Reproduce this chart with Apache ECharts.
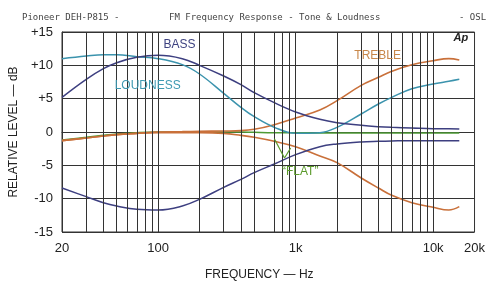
<!DOCTYPE html>
<html>
<head>
<meta charset="utf-8">
<script src="https://cdn.jsdelivr.net/npm/echarts@6/dist/echarts.min.js"></script>
<style>
  html, body { margin: 0; padding: 0; background: #fff; }
  #chart { width: 488px; height: 286px; }
</style>
</head>
<body>
<div id="chart"></div>
<script>
var freqs = [20, 30, 40, 50, 70, 100, 150, 200, 300, 400, 500, 700, 1000, 1500, 2000, 3000, 4000, 5000, 7000, 10000, 13000, 15500];

// relative level, dB
var bassBoost   = [5.2, 7.9, 9.5, 10.4, 11.2, 11.5, 11.0, 10.0, 8.4, 7.1, 5.9, 4.4, 3.0, 1.9, 1.4, 1.0, 0.8, 0.7, 0.6, 0.5, 0.5, 0.45];
var bassCut     = [-8.4, -9.7, -10.6, -11.1, -11.6, -11.7, -11.1, -10.1, -8.3, -7.1, -6.1, -4.8, -3.4, -2.2, -1.8, -1.5, -1.4, -1.35, -1.3, -1.3, -1.3, -1.3];
var loudness    = [11.0, 11.4, 11.6, 11.6, 11.3, 11.0, 10.1, 8.7, 5.8, 3.7, 2.3, 0.7, -0.2, -0.1, 0.7, 2.7, 4.2, 5.2, 6.5, 7.2, 7.6, 7.9];
var trebleBoost = [-1.3, -0.9, -0.6, -0.4, -0.2, 0.0, 0.05, 0.1, 0.15, 0.2, 0.4, 1.1, 2.1, 3.3, 4.7, 7.0, 8.2, 9.1, 10.1, 10.7, 11.0, 10.8];
var trebleCut   = [-1.3, -0.9, -0.6, -0.4, -0.2, -0.1, -0.1, -0.1, -0.2, -0.5, -0.8, -1.4, -2.2, -3.6, -4.6, -6.9, -8.4, -9.5, -10.6, -11.3, -11.7, -11.2];
var flat        = [-1.2, -0.8, -0.5, -0.3, -0.1, 0.0, 0.0, 0.0, 0.0, 0.0, -0.05, -0.1, -0.1, -0.15, -0.15, -0.15, -0.15, -0.15, -0.15, -0.15, -0.15, -0.15];

// vertical grid lines
var gridFreqs = [30, 40, 50, 60, 70, 80, 90, 100, 200, 300, 400, 500, 700, 800, 900, 1000,
                 2000, 3000, 4000, 5000, 6000, 7000, 8000, 9000, 10000];

function pairs(vals) {
    return freqs.map(function (f, i) { return [f, vals[i]]; });
}

var myChart = echarts.init(document.getElementById('chart'), null, {renderer: 'canvas'});

var lineBase = {type: 'line', smooth: 0.4, showSymbol: false, symbol: 'none', z: 3, silent: true};

function curve(name, vals, color, width) {
    return Object.assign({}, lineBase, {
        name: name,
        data: pairs(vals),
        lineStyle: {color: color, width: width || 1.5}
    });
}

// text tags placed in data coordinates
function tag(text, f, db, color, extra) {
    return {
        symbol: 'circle', symbolSize: 1, silent: true, animation: false,
        itemStyle: {color: 'rgba(0,0,0,0)'},
        data: [{coord: [f, db], value: 1}],
        label: Object.assign({show: true, position: 'inside', formatter: text, color: color,
                              fontFamily: 'Liberation Sans', fontSize: 12}, extra || {})
    };
}

var monoTitle = {fontFamily: 'DejaVu Sans Mono', fontSize: 9, fontWeight: 'normal', color: '#444'};

var option = {
    backgroundColor: '#fff',
    animation: false,
    title: [
        {text: 'Pioneer DEH-P815 -', left: 17, top: 8, textStyle: monoTitle},
        {text: 'FM Frequency Response - Tone & Loudness', left: 164, top: 8, textStyle: monoTitle},
        {text: '- OSL', left: 454, top: 8, textStyle: monoTitle}
    ],
    grid: {left: 61, right: 12, top: 32, bottom: 50, show: true, borderColor: '#333', borderWidth: 1},
    xAxis: {
        type: 'log', logBase: 10, min: 20, max: 20000,
        name: 'FREQUENCY — Hz', nameLocation: 'middle', nameGap: 37,
        nameTextStyle: {fontFamily: 'Liberation Sans', fontSize: 12, color: '#222', padding: [0, 18, 0, 0]},
        axisLine: {show: true, lineStyle: {color: '#333'}},
        axisTick: {show: false},
        splitLine: {show: false},
        minorTick: {show: false},
        axisLabel: {
            margin: 10, fontFamily: 'Liberation Sans', fontSize: 13, color: '#222',
            formatter: function (v) {
                v = Math.round(v);
                return v >= 1000 ? Math.round(v / 1000) + 'k' : String(v);
            }
        }
    },
    yAxis: {
        type: 'value', min: -15, max: 15, interval: 5,
        name: 'RELATIVE LEVEL — dB', nameLocation: 'middle', nameGap: 42, nameRotate: 90,
        nameTextStyle: {fontFamily: 'Liberation Sans', fontSize: 12, color: '#222'},
        axisLine: {show: true, lineStyle: {color: '#333'}},
        axisTick: {show: false},
        splitLine: {show: true, lineStyle: {color: '#333', width: 1}},
        axisLabel: {
            margin: 9, fontFamily: 'Liberation Sans', fontSize: 13, color: '#222',
            formatter: function (v) { return v > 0 ? '+' + v : String(v); }
        }
    },
    series: [
        {
            name: 'grid', type: 'line', data: [], silent: true, z: 1,
            markLine: {
                silent: true, symbol: 'none', animation: false,
                label: {show: false},
                lineStyle: {color: '#333', width: 1, type: 'solid'},
                data: gridFreqs.map(function (f) { return {xAxis: f}; })
            },
            markPoint: tag('Ap', 15900, 14.1, '#222', {fontStyle: 'italic', fontWeight: 'bold', fontSize: 11})
        },
        Object.assign(curve('FLAT', flat, '#4e9a34', 1.5), {
            markPoint: tag('\u201CFLAT\u201D', 1080, -5.9, '#5a9a2a'),
            markLine: {
                silent: true, symbol: 'none', animation: false, label: {show: false},
                lineStyle: {color: '#5a9a2a', width: 1.2, type: 'solid'},
                data: [
                    [{coord: [700, -1.0]}, {coord: [830, -3.9]}],
                    [{coord: [830, -3.9]}, {coord: [920, -2.4]}]
                ]
            }
        }),
        Object.assign(curve('TREBLE +', trebleBoost, '#c9703a', 1.6), {
            markPoint: tag('TREBLE', 3950, 11.5, '#c8874a')
        }),
        curve('TREBLE -', trebleCut, '#c9703a', 1.6),
        Object.assign(curve('LOUDNESS', loudness, '#3b93ad', 1.5), {
            markPoint: tag('LOUDNESS', 84, 6.9, '#3f9ab2')
        }),
        Object.assign(curve('BASS +', bassBoost, '#3d3f80', 1.5), {
            markPoint: tag('BASS', 143, 13.1, '#3d4280')
        }),
        curve('BASS -', bassCut, '#3d3f80', 1.5)
    ]
};

myChart.setOption(option);
</script>
</body>
</html>
